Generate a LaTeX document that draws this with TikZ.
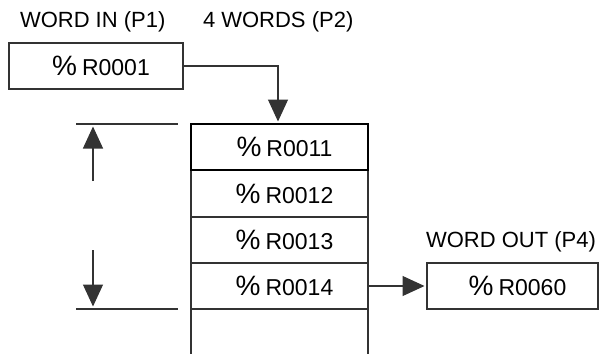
\documentclass[tikz,border=0pt]{standalone}
\usepackage{fontspec}
\setmainfont{Liberation Sans}
\usetikzlibrary{arrows.meta}
\begin{document}
\begin{tikzpicture}[x=1pt,y=-1pt,
  every node/.style={inner sep=0pt, outer sep=0pt},
  lbl/.style={font=\fontsize{22}{24}\selectfont, anchor=base west},
  reg/.style={draw=black!80, line width=1.2pt, minimum width=#1, minimum height=46pt, font=\fontsize{23}{25}\selectfont},
  reg/.default=177pt,
  ln/.style={draw=black!80, line width=1.2pt},
  arr/.style={ln, shorten >=2.5pt, -{Triangle[length=22pt,width=20pt]}}
]
\useasboundingbox (0,0) rectangle (600,354);
% labels
\node[lbl] (lin) at (20,27) {WORD IN (P1)};
\node[lbl] (lwords) at (203,27) {4 WORDS (P2)};
\node[lbl] (lout) at (426,247) {WORD OUT (P4)};
\newcommand{\pct}{\hspace*{10pt}{\fontsize{28}{28}\selectfont\%}\hspace{5pt}}
% input box
\node[reg=174pt] (in) at (96,66) {\pct R0001};
% stack
\node[reg] (r11) at (279.5,147) {\pct R0011};
\node[reg] (r12) at (279.5,193.5) {\pct R0012};
\node[reg] (r13) at (279.5,240) {\pct R0013};
\node[reg] (r14) at (279.5,286) {\pct R0014};
\draw[line width=1.4pt] (r11.north west) rectangle (r11.south east);
\coordinate (bl) at (191,354);
\coordinate (br) at (368,354);
\draw[ln] (r14.south west) -- (bl);
\draw[ln] (r14.south east) -- (br);
% output box
\node[reg=171pt] (out) at (512.5,286) {\pct R0060};
% connectors
\coordinate (bend) at (278,66);
\draw[arr] (in.east) -- (bend) -- (bend |- r11.north);
\draw[arr] (r14.east) -- (out.west);
% dimension lines
\coordinate (t1) at (76,124);
\coordinate (t2) at (178,124);
\coordinate (b1) at (76,309);
\coordinate (b2) at (178,309);
\draw[ln] (t1) -- (t2);
\draw[ln] (b1) -- (b2);
\coordinate (ua) at (93,181);
\coordinate (ut) at (93,124);
\coordinate (da) at (93,250);
\coordinate (dt) at (93,309);
\draw[arr] (ua) -- (ut);
\draw[arr] (da) -- (dt);
\end{tikzpicture}
\end{document}
